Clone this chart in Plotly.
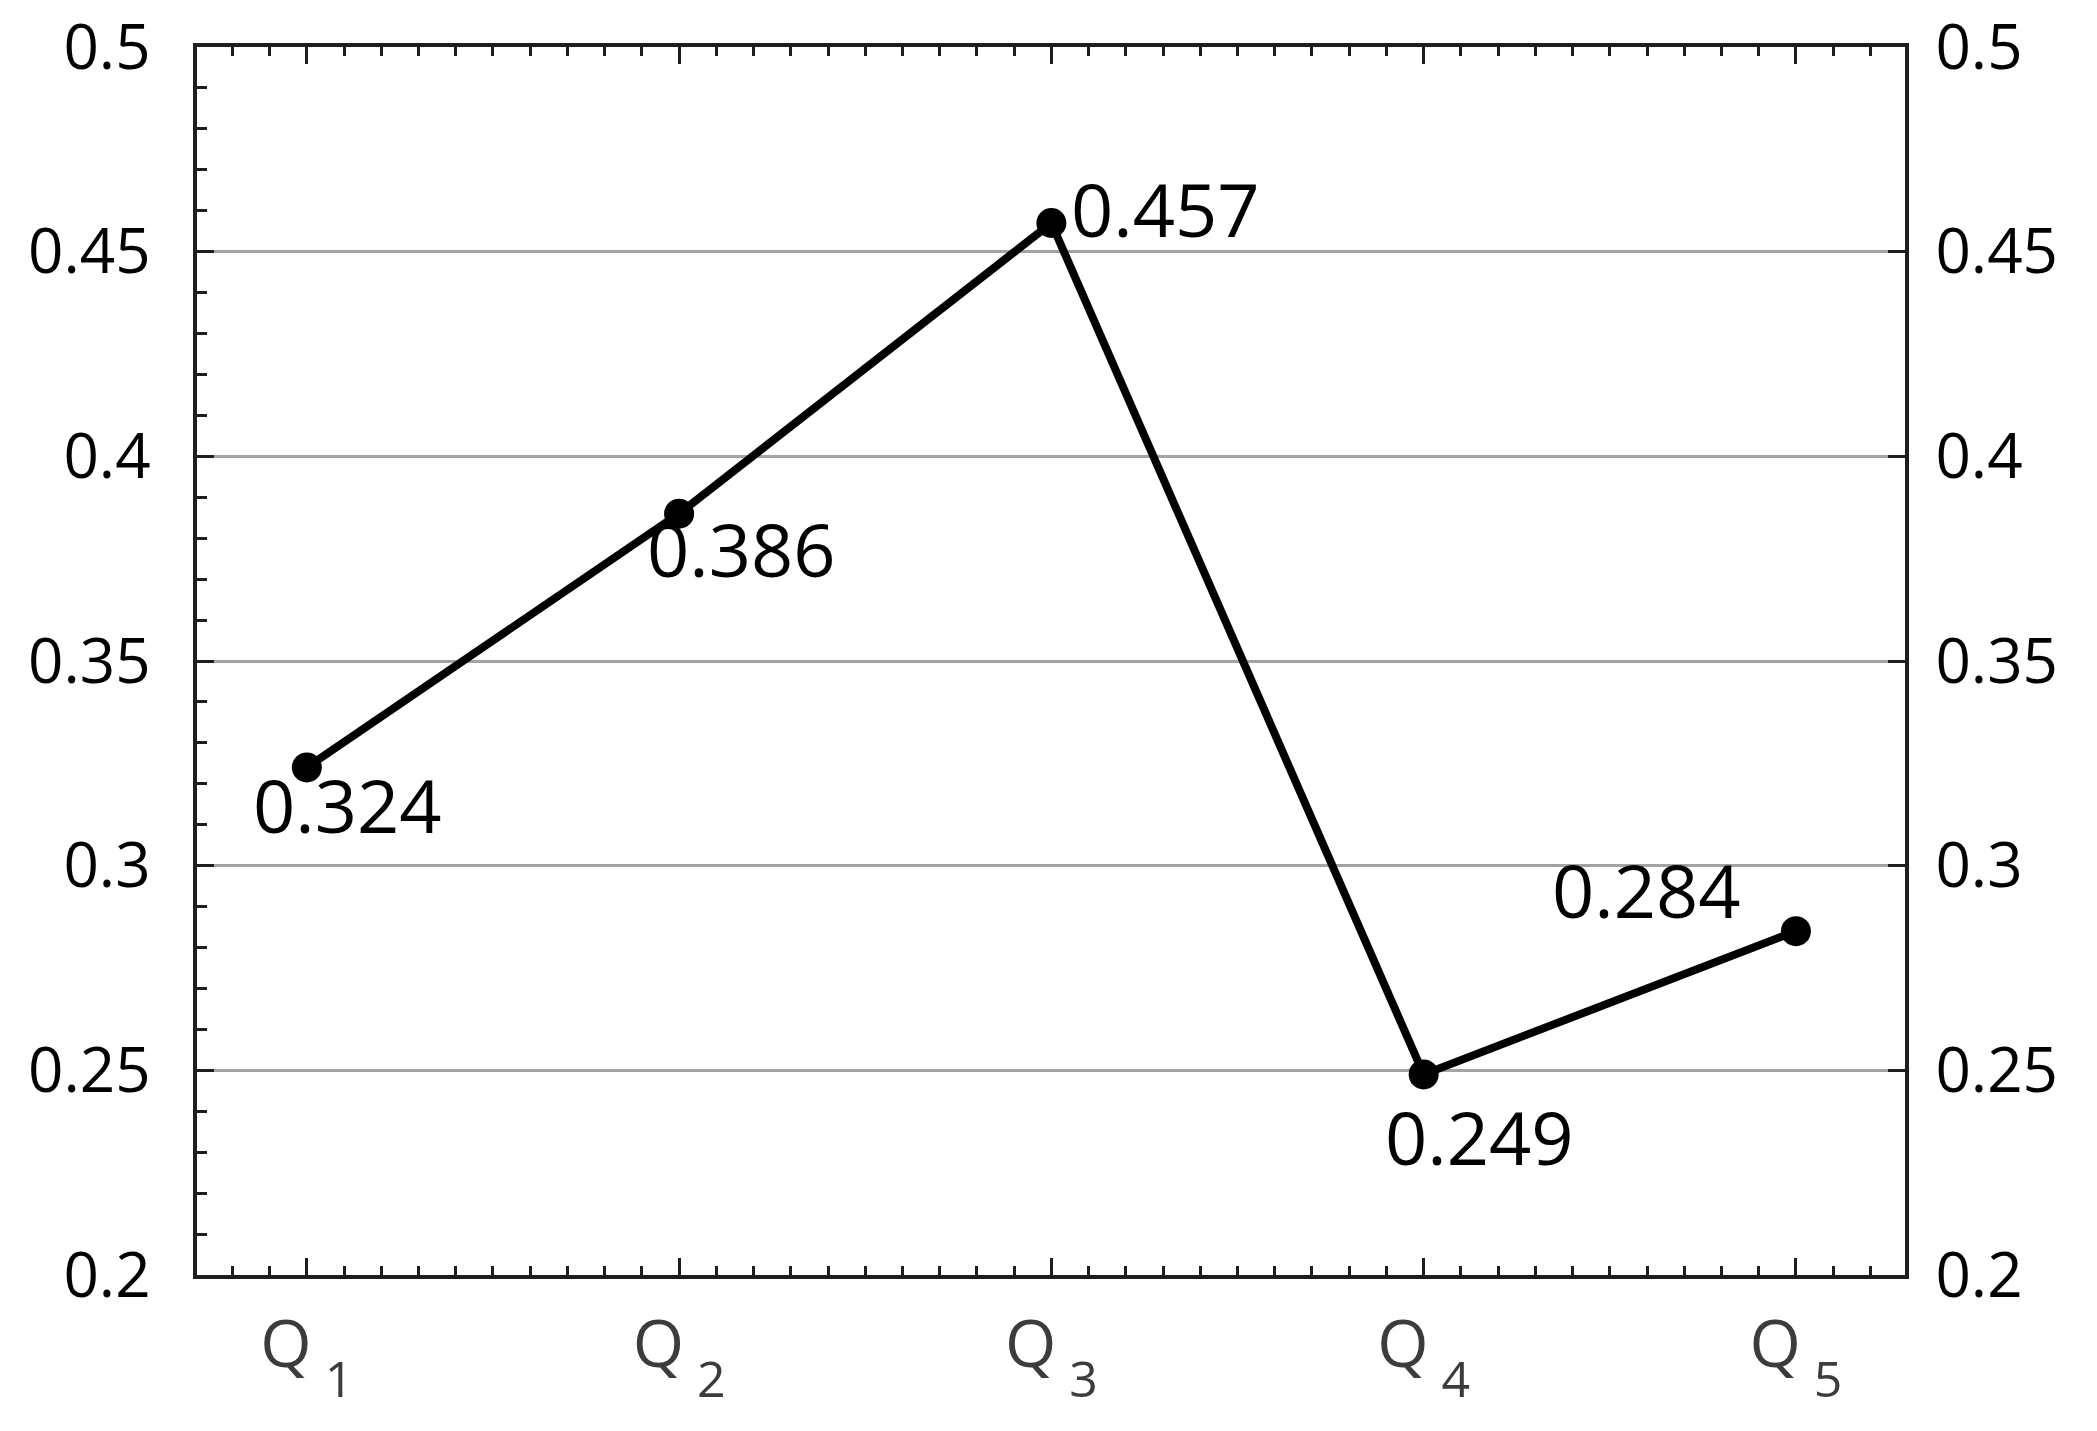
import plotly.graph_objects as go

# values
categories = [f"Q<sub><span style='font-size:50px;baseline-shift:-16px'> {i}</span></sub>" for i in "12345"]
positions = [1, 2, 3, 4, 5]
values = [0.324, 0.386, 0.457, 0.249, 0.284]
y_ticks = [0.2, 0.25, 0.3, 0.35, 0.4, 0.45, 0.5]

# label offsets (pixels) from each point: (dx, dy up)
label_offsets = [(41, -37), (62, -35), (114, 15), (56, -62), (-149, 42)]

X_RANGE = [0.705, 5.293]
Y_RANGE = [0.2, 0.5]
AXIS = "#1e1e1e"

fig = go.Figure()
fig.add_trace(
    go.Scatter(
        x=positions,
        y=values,
        mode="lines+markers",
        line={"color": "black", "width": 8},
        marker={"color": "black", "size": 30},
        showlegend=False,
        hoverinfo="skip",
    )
)
# empty trace so the mirrored top/right axes are drawn
fig.add_trace(go.Scatter(x=[], y=[], xaxis="x2", yaxis="y2", showlegend=False, hoverinfo="skip"))

for x, y, (dx, dy) in zip(positions, values, label_offsets):
    fig.add_annotation(
        x=x,
        y=y,
        text=f"{y:.3f}",
        showarrow=False,
        xanchor="center",
        yanchor="middle",
        xshift=dx,
        yshift=dy,
        font={"family": "Open Sans", "size": 74, "color": "black"},
    )

common_x = dict(
    range=X_RANGE,
    automargin=False,
    tickmode="array",
    tickvals=positions,
    ticks="inside",
    ticklen=17,
    tickwidth=3,
    tickcolor=AXIS,
    showline=True,
    linewidth=4,
    linecolor=AXIS,
    showgrid=False,
    zeroline=False,
    minor=dict(tickmode="linear", tick0=0, dtick=0.1, ticks="inside", ticklen=9, tickwidth=3, tickcolor=AXIS),
)

common_y = dict(
    range=Y_RANGE,
    automargin=False,
    ticklabeloverflow="allow",
    tickmode="array",
    tickvals=y_ticks,
    ticks="inside",
    ticklen=17,
    tickwidth=3,
    tickcolor=AXIS,
    showline=True,
    linewidth=4,
    linecolor=AXIS,
    zeroline=False,
    tickfont={"family": "Open Sans", "size": 62, "color": "black"},
)

fig.update_layout(
    width=2097,
    height=1431,
    template="none",
    paper_bgcolor="white",
    plot_bgcolor="white",
    margin={"l": 197, "r": 192, "t": 47, "b": 156},
    xaxis=dict(
        **common_x,
        ticktext=categories,
        ticklabelstandoff=9,
        ticklabeloverflow="allow",
        tickfont={"family": "Open Sans", "size": 66, "color": "#3c3c3c"},
    ),
    xaxis2=dict(**common_x, overlaying="x", side="top", anchor="y", showticklabels=False),
    yaxis=dict(
        **common_y,
        showgrid=True,
        gridcolor="#a3a3a3",
        gridwidth=3,
        ticklabelstandoff=30,
        minor=dict(tickmode="linear", tick0=0.2, dtick=0.01, ticks="inside", ticklen=10, tickwidth=3, tickcolor=AXIS),
    ),
    yaxis2=dict(
        **common_y,
        overlaying="y",
        side="right",
        anchor="x",
        showgrid=False,
        ticklabelstandoff=14,
    ),
)

# drop the default body margin so the figure fills the window exactly
fig.write_html(
    "out.html",
    config={"displayModeBar": False},
    post_script="document.body.style.margin='0';document.body.style.overflow='hidden';",
)
